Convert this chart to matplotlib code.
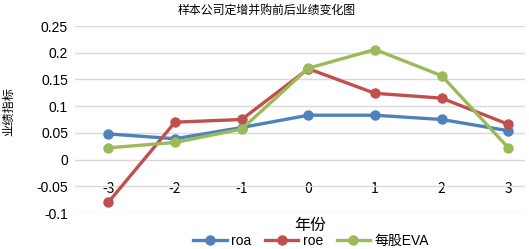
import matplotlib
matplotlib.use("Agg")
import matplotlib.pyplot as plt

plt.rcParams['font.family'] = ['Noto Sans CJK SC', 'DejaVu Sans']

years = ["-3", "-2", "-1", "0", "1", "2", "3"]
roa = [0.048, 0.039, 0.060, 0.083, 0.083, 0.075, 0.054]
roe = [-0.080, 0.070, 0.075, 0.170, 0.124, 0.115, 0.066]
eva = [0.022, 0.032, 0.057, 0.171, 0.206, 0.157, 0.022]
yticks = [-0.1, -0.05, 0, 0.05, 0.1, 0.15, 0.2, 0.25]
ytick_labels = ["-0.1", "-0.05", "0", "0.05", "0.1", "0.15", "0.2", "0.25"]

fig = plt.figure(figsize=(5.29, 2.49), dpi=100)
ax = fig.add_axes([75 / 529, 1 - 213 / 249, 450 / 529, 187 / 249])

x = list(range(len(years)))
ax.plot(x, roa, color='#4F81BD', lw=2.4, marker='o', ms=6.5, label='roa', zorder=3)
ax.plot(x, roe, color='#C0504D', lw=2.4, marker='o', ms=6.5, label='roe', zorder=3)
ax.plot(x, eva, color='#9BBB59', lw=2.4, marker='o', ms=6.5, label='每股EVA', zorder=3)

ax.set_xlim(-0.5, 6.25)
ax.set_ylim(-0.1, 0.25)
ax.set_yticks(yticks)
ax.set_yticklabels(ytick_labels, family=['Liberation Sans'], fontsize=10)
ax.set_xticks(x)
ax.set_xticklabels(years, family=['Liberation Sans'], fontsize=9.5)
ax.spines['bottom'].set_position(('data', 0))
for s in ax.spines.values():
    s.set_visible(False)
ax.tick_params(axis='x', length=0, pad=16)
ax.tick_params(axis='y', length=0, pad=5)
ax.grid(axis='y', color='#D9D9D9', lw=1)
ax.set_axisbelow(True)

fig.text(267 / 529, 1 - 10 / 249, "样本公司定增并购前后业绩变化图", ha='center', va='center', fontsize=8.6)
fig.text(9 / 529, 1 - 111 / 249, "业绩指标", rotation=90, ha='center', va='center', fontsize=8.8)
fig.text(310 / 529, 1 - 225 / 249, "年份", ha='center', va='center', fontsize=11.5)

ax.legend(loc='center', bbox_to_anchor=(311 / 529, 1 - 241 / 249), bbox_transform=fig.transFigure,
          ncol=3, frameon=False, prop={'family': ['Liberation Sans', 'Noto Sans CJK SC'], 'size': 10},
          handlelength=2.4, columnspacing=1.0, handletextpad=0.3, borderpad=0)

fig.savefig("out.png", dpi=100)
